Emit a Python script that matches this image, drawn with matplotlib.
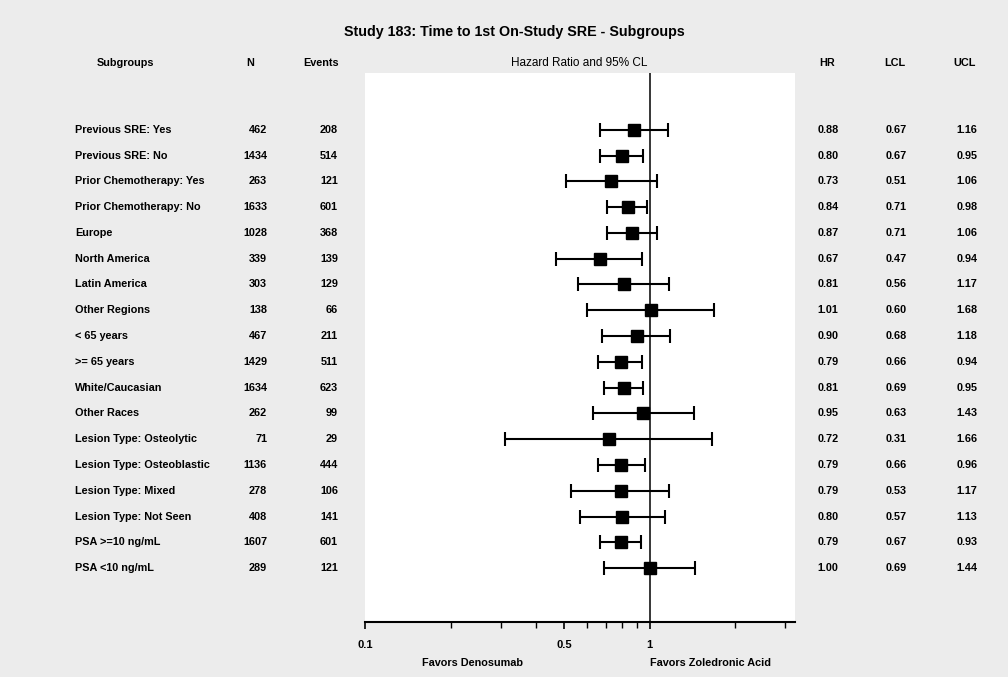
import matplotlib
matplotlib.use("Agg")
import matplotlib.pyplot as plt
import matplotlib.transforms as mtransforms
from matplotlib.ticker import FixedLocator, NullFormatter

plt.rcParams["font.family"] = ["Liberation Sans", "DejaVu Sans"]

subgroups = [
    "Previous SRE: Yes", "Previous SRE: No", "Prior Chemotherapy: Yes",
    "Prior Chemotherapy: No", "Europe", "North America", "Latin America",
    "Other Regions", "< 65 years", ">= 65 years", "White/Caucasian",
    "Other Races", "Lesion Type: Osteolytic", "Lesion Type: Osteoblastic",
    "Lesion Type: Mixed", "Lesion Type: Not Seen", "PSA >=10 ng/mL",
    "PSA <10 ng/mL",
]
n_pts = [462, 1434, 263, 1633, 1028, 339, 303, 138, 467, 1429, 1634, 262,
         71, 1136, 278, 408, 1607, 289]
events = [208, 514, 121, 601, 368, 139, 129, 66, 211, 511, 623, 99,
          29, 444, 106, 141, 601, 121]
hr = [0.88, 0.80, 0.73, 0.84, 0.87, 0.67, 0.81, 1.01, 0.90, 0.79, 0.81, 0.95,
      0.72, 0.79, 0.79, 0.80, 0.79, 1.00]
lcl = [0.67, 0.67, 0.51, 0.71, 0.71, 0.47, 0.56, 0.60, 0.68, 0.66, 0.69, 0.63,
       0.31, 0.66, 0.53, 0.57, 0.67, 0.69]
ucl = [1.16, 0.95, 1.06, 0.98, 1.06, 0.94, 1.17, 1.68, 1.18, 0.94, 0.95, 1.43,
       1.66, 0.96, 1.17, 1.13, 0.93, 1.44]

W, H = 1008, 677
fig = plt.figure(figsize=(W / 100, H / 100), dpi=100, facecolor="#ececec")

# axes area in pixels: x 365-795, y 73-622
ax = fig.add_axes([365 / W, 1 - 622 / H, (795 - 365) / W, (622 - 73) / H])
ax.set_facecolor("white")

rows = list(range(len(subgroups)))
err_lo = [h - l for h, l in zip(hr, lcl)]
err_hi = [u - h for h, u in zip(hr, ucl)]
ax.errorbar(hr, rows, xerr=[err_lo, err_hi], fmt="s", color="black",
            ms=8, elinewidth=1.5, capsize=5, capthick=1.5)
ax.axvline(1, color="black", lw=1.1)

ax.set_xscale("log")
ax.set_xlim(0.1, 3.24)
ax.set_ylim(len(subgroups) - 1 + 2.09, -2.2)
ax.xaxis.set_major_locator(FixedLocator([0.1, 0.5, 1]))
ax.xaxis.set_minor_locator(FixedLocator([0.2, 0.3, 0.4, 0.6, 0.7, 0.8, 0.9, 2, 3]))
ax.xaxis.set_minor_formatter(NullFormatter())
ax.set_xticklabels(["0.1", "0.5", "1"], fontsize=8, fontweight="bold")
ax.tick_params(axis="x", which="major", length=5, width=1.2, pad=8)
ax.tick_params(axis="x", which="minor", length=4, width=1.0)
ax.set_yticks([])
for s in ["left", "top", "right"]:
    ax.spines[s].set_visible(False)
ax.spines["bottom"].set_linewidth(1.5)

trans = mtransforms.blended_transform_factory(fig.transFigure, ax.transData)
fs = 7.8
for i in rows:
    ax.text(75 / W, i, subgroups[i], transform=trans, ha="left", va="center",
            fontsize=fs, fontweight="bold")
    ax.text(267 / W, i, str(n_pts[i]), transform=trans, ha="right", va="center",
            fontsize=fs, fontweight="bold")
    ax.text(338 / W, i, str(events[i]), transform=trans, ha="right", va="center",
            fontsize=fs, fontweight="bold")
    ax.text(828 / W, i, f"{hr[i]:.2f}", transform=trans, ha="center", va="center",
            fontsize=fs, fontweight="bold")
    ax.text(896 / W, i, f"{lcl[i]:.2f}", transform=trans, ha="center", va="center",
            fontsize=fs, fontweight="bold")
    ax.text(967 / W, i, f"{ucl[i]:.2f}", transform=trans, ha="center", va="center",
            fontsize=fs, fontweight="bold")

def fig_text(px, py, s, **kw):
    fig.text(px / W, 1 - py / H, s, ha="center", va="center", **kw)

fig_text(514, 32, "Study 183: Time to 1st On-Study SRE - Subgroups",
         fontsize=10.3, fontweight="bold")
fig_text(125, 63, "Subgroups", fontsize=fs, fontweight="bold")
fig_text(250, 63, "N", fontsize=fs, fontweight="bold")
fig_text(321, 63, "Events", fontsize=fs, fontweight="bold")
fig_text(579, 63, "Hazard Ratio and 95% CL", fontsize=8.5)
fig_text(827, 63, "HR", fontsize=fs, fontweight="bold")
fig_text(895, 63, "LCL", fontsize=fs, fontweight="bold")
fig_text(965, 63, "UCL", fontsize=fs, fontweight="bold")
fig_text(473, 663, "Favors Denosumab", fontsize=fs, fontweight="bold")
fig_text(710, 663, "Favors Zoledronic Acid", fontsize=fs, fontweight="bold")

fig.savefig("out.png", dpi=100, facecolor=fig.get_facecolor())
